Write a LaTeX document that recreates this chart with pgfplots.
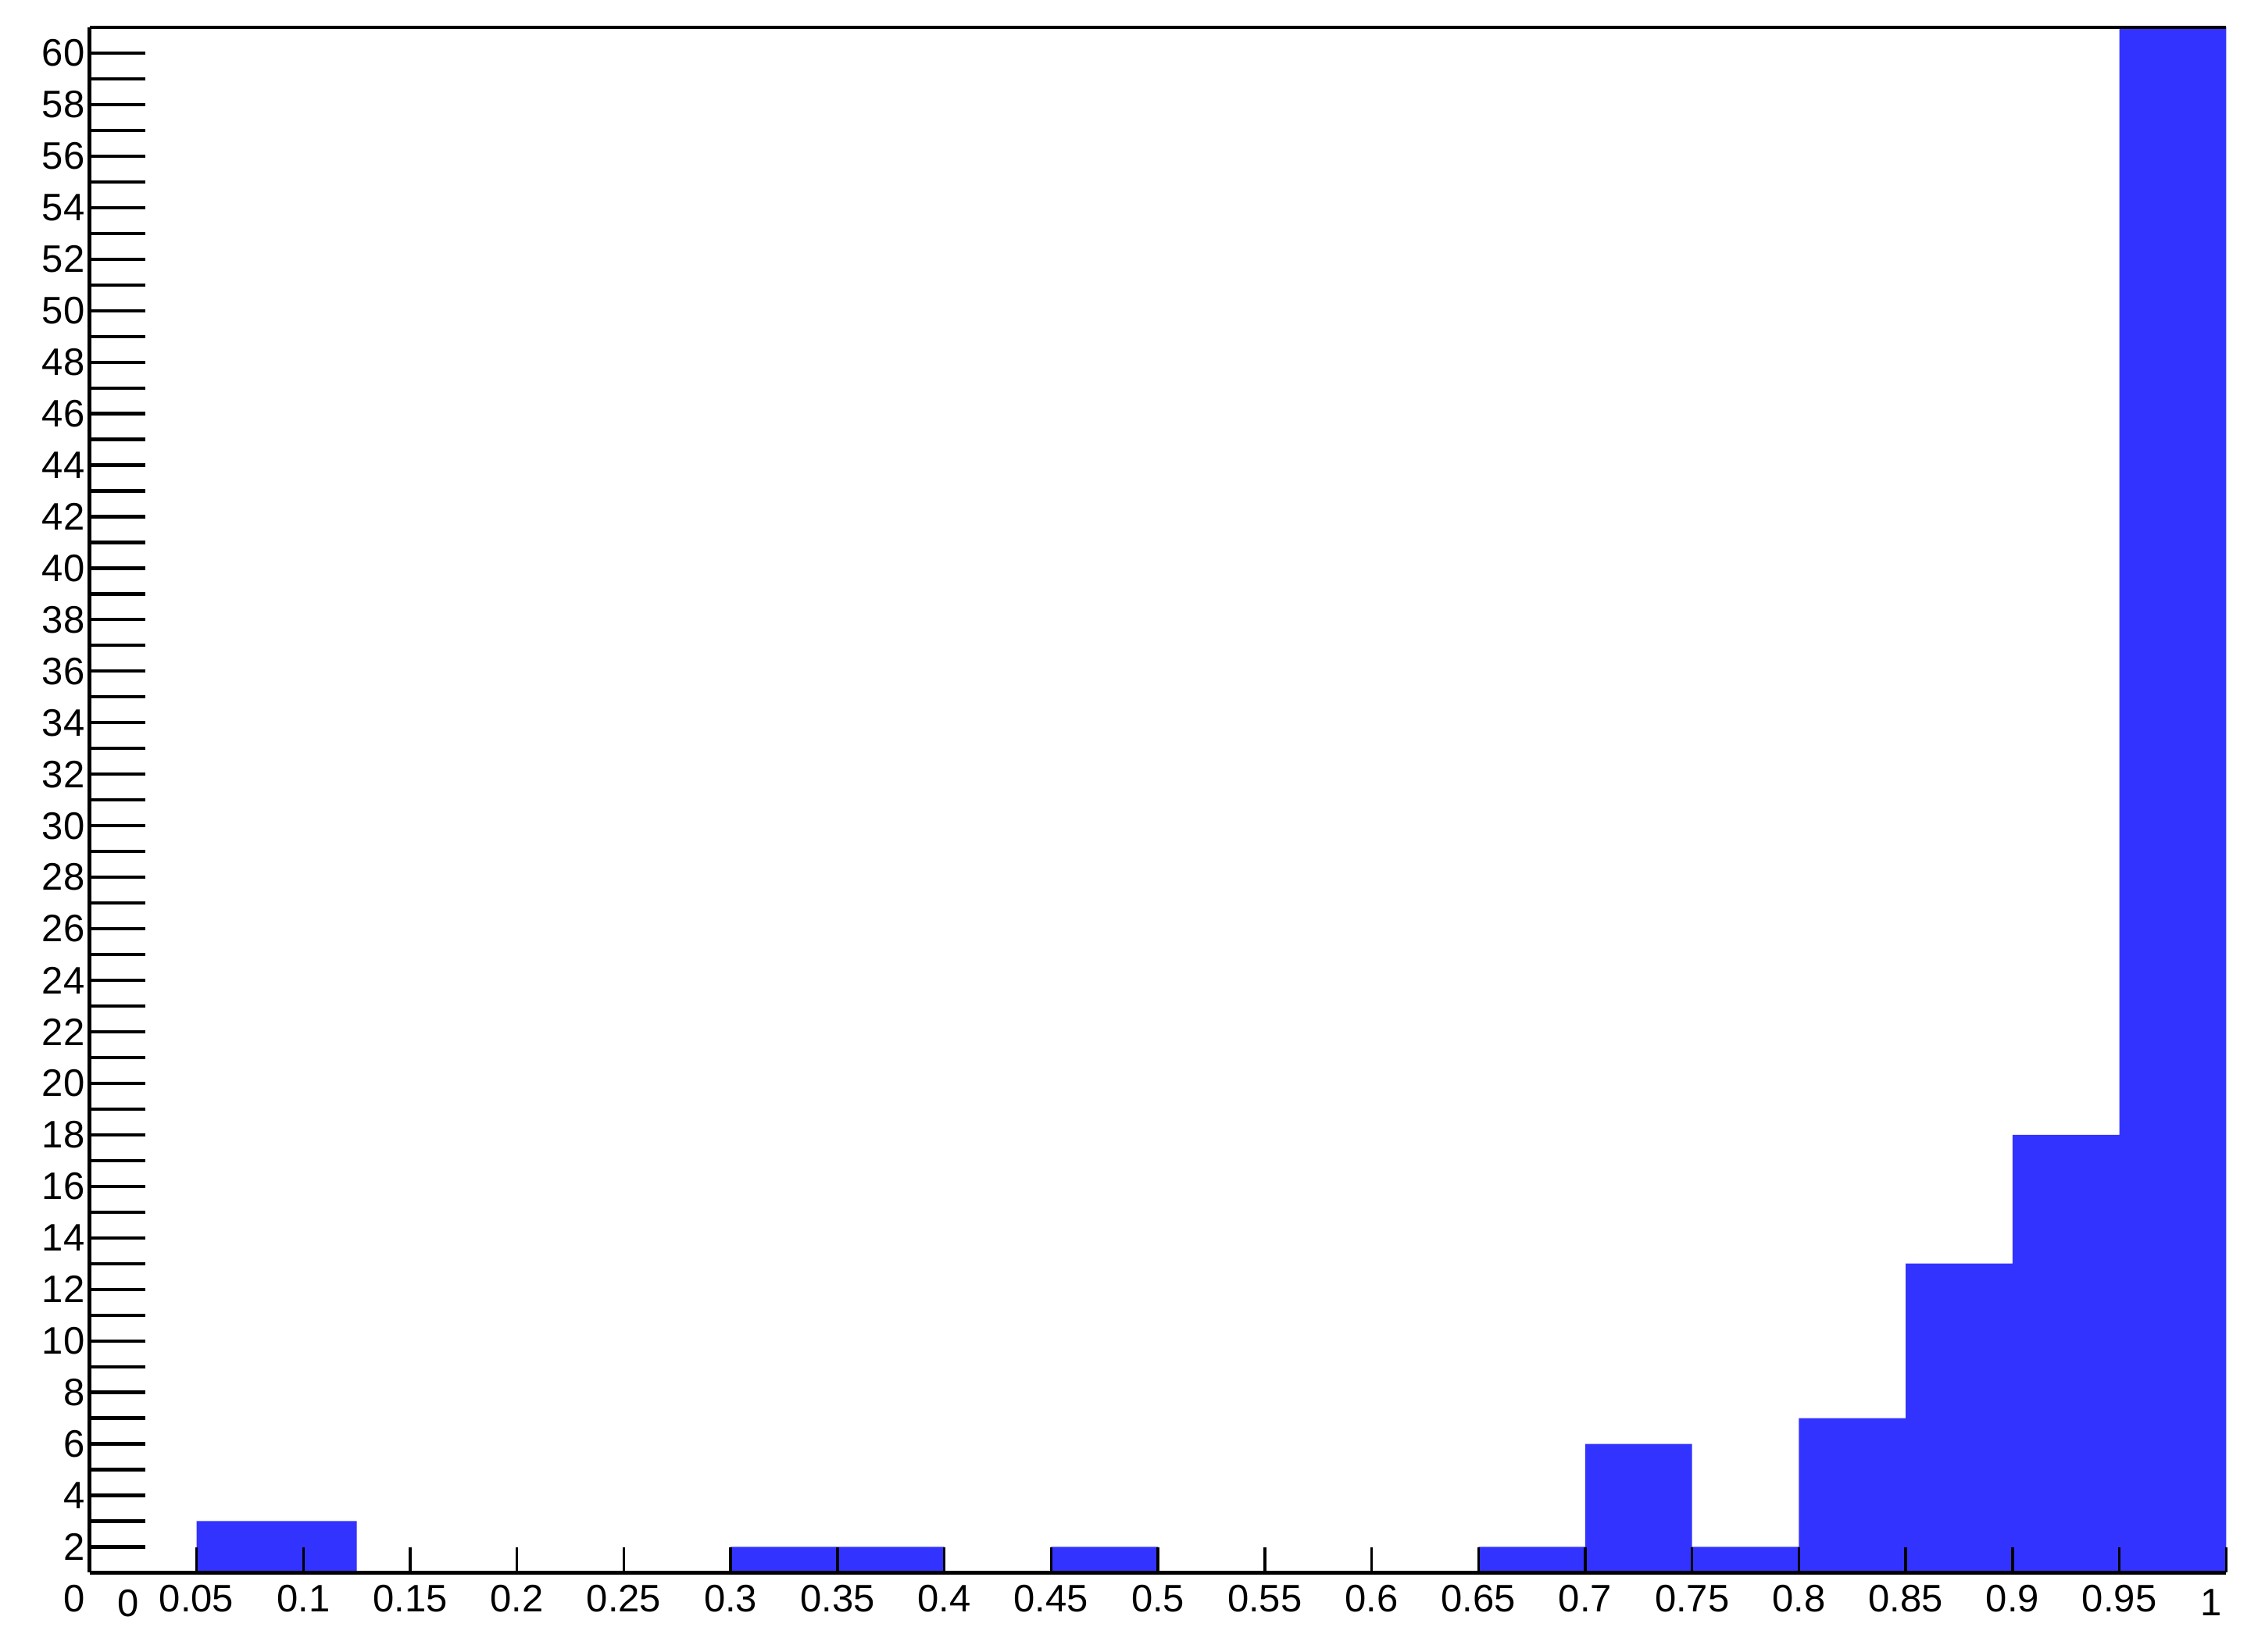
\documentclass[border=0pt]{standalone}
\usepackage{pgfplots}
\pgfplotsset{compat=1.18}
\usepackage{fontspec}
\setmainfont{Liberation Sans}
\definecolor{barblue}{HTML}{3333FF}

\begin{document}
\begin{tikzpicture}
\path[use as bounding box] (-16.4pt,-14.4pt) rectangle (397.7pt,287.6pt);
\begin{axis}[scale only axis,width=390.6pt,height=282.6pt,
  xmin=0,xmax=1,ymin=1,ymax=61,
  axis x line*=box,axis y line*=left,axis line style={line width=0.7pt,-,black},
  axis on top,clip mode=individual,
  tick align=inside,xtick pos=left,ytick pos=left,
  xtick={0.05,0.1,0.15,0.2,0.25,0.3,0.35,0.4,0.45,0.5,0.55,0.6,0.65,0.7,0.75,0.8,0.85,0.9,0.95,1},
  xticklabels={0.05,0.1,0.15,0.2,0.25,0.3,0.35,0.4,0.45,0.5,0.55,0.6,0.65,0.7,0.75,0.8,0.85,0.9,0.95,},
  ytick={2,4,...,60},minor ytick={3,5,...,59},
  xtick style={black,line width=0.5pt,/pgfplots/major tick length=4.7pt},
  ytick style={black,line width=0.6pt,/pgfplots/major tick length=10.2pt,/pgfplots/minor tick length=10.2pt},
  /pgf/number format/assume math mode=true,
  ticklabel style={font=\fontsize{7}{8}\selectfont},
  xticklabel style={anchor=north,inner sep=0pt,yshift=-2pt},
  yticklabel style={anchor=east,inner sep=0pt,xshift=-0.7pt}]
\addplot[const plot mark left,fill=barblue,draw=none] coordinates {
  (0,0)(0.05,3)(0.125,0)(0.3,2)(0.4,0)(0.45,2)(0.5,0)(0.65,2)(0.7,6)(0.75,2)
  (0.8,7)(0.85,13)(0.9,18)(0.95,70)(1,70)} \closedcycle;
\node[anchor=north east,inner sep=0pt,font=\fontsize{7}{8}\selectfont] at ([xshift=-0.7pt,yshift=-2pt]axis cs:0,1) {0};
\node[anchor=north,inner sep=0pt,font=\fontsize{7}{8}\selectfont] at ([yshift=-2.9pt]axis cs:0.0182,1) {0};
\node[anchor=north,inner sep=0pt,font=\fontsize{7}{8}\selectfont] at ([yshift=-2.9pt]axis cs:0.993,1) {1};
\end{axis}
\end{tikzpicture}
\end{document}
